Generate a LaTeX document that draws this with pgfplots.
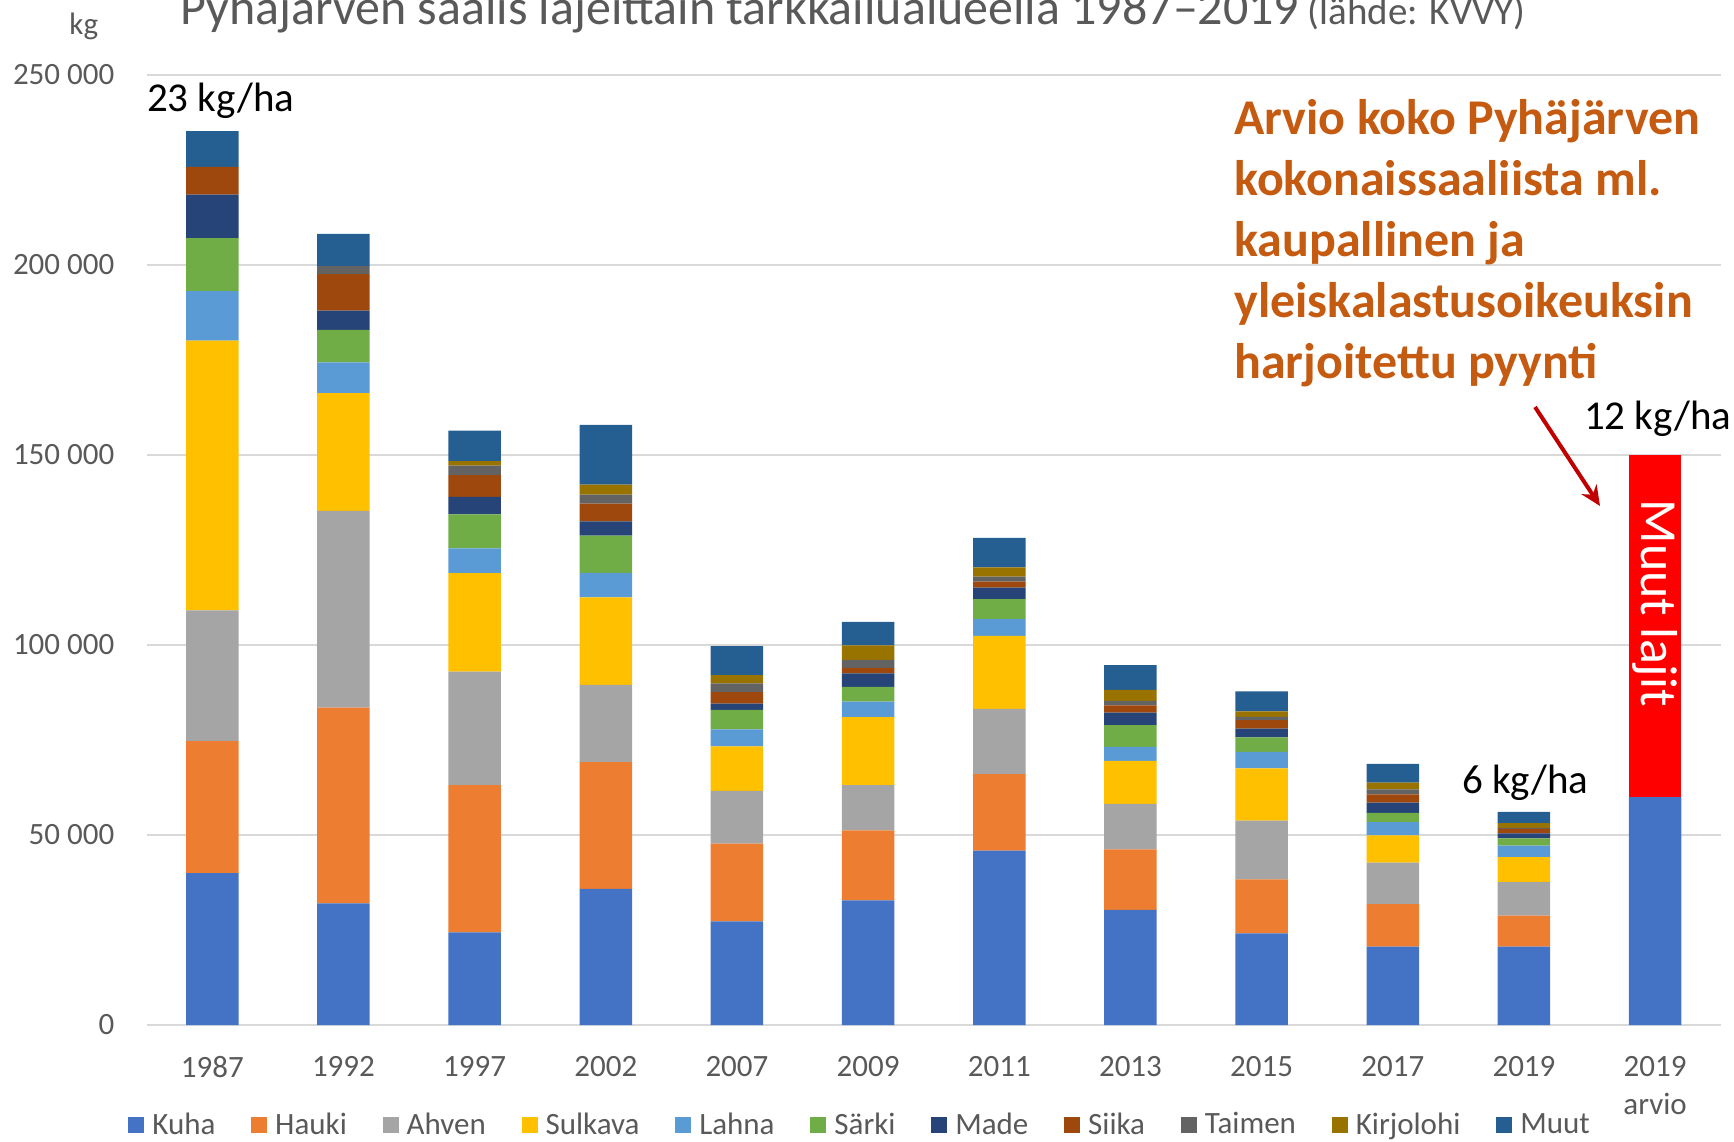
\documentclass[border=0pt]{standalone}
\usepackage{pgfplots}
\pgfplotsset{compat=1.18}
\usepackage{pgfplotstable}
\usetikzlibrary{arrows.meta}
\usepackage{fontspec}
\setmainfont{Carlito}

\definecolor{cKuha}{HTML}{4472C4}
\definecolor{cHauki}{HTML}{ED7D31}
\definecolor{cAhven}{HTML}{A5A5A5}
\definecolor{cSulkava}{HTML}{FFC000}
\definecolor{cLahna}{HTML}{5B9BD5}
\definecolor{cSarki}{HTML}{70AD47}
\definecolor{cMade}{HTML}{264478}
\definecolor{cSiika}{HTML}{9E480E}
\definecolor{cTaimen}{HTML}{636363}
\definecolor{cKirjolohi}{HTML}{997300}
\definecolor{cMuut}{HTML}{255E91}
\definecolor{txtgray}{HTML}{595959}
\definecolor{gridgray}{HTML}{D9D9D9}
\definecolor{orangetxt}{HTML}{C55A11}
\definecolor{arrowred}{HTML}{C00000}

% saalis (kg) lajeittain; x = 0..11 (1987 ... 2019 arvio)
\pgfplotstableread{
x Kuha Hauki Ahven Sulkava Lahna Sarki Made Siika Taimen Kirjolohi Muut Red
0 40000 34700 34400 71000 13000 14000 11400 7300 0 0 9400 0
1 32000 51500 51800 31000 8100 8500 5100 9600 2100 0 8500 0
2 24400 38700 29900 25900 6500 9000 4600 5700 2500 1200 8000 0
3 35800 33400 20300 23000 6500 9800 3700 4700 2400 2600 15700 0
4 27300 20400 13900 11700 4500 5100 1700 3000 2300 2200 7600 0
5 32800 18400 11900 17900 4100 3900 3500 1500 2100 3800 6200 0
6 45900 20100 17200 19200 4400 5300 3000 1600 1300 2400 7800 0
7 30300 15900 12000 11300 3700 5700 3300 1900 1200 2900 6500 0
8 24100 14200 15500 13700 4400 3800 2300 2200 900 1400 5300 0
9 20600 11200 10900 7200 3500 2400 2700 2200 1300 1800 4900 0
10 20600 8200 8800 6600 3000 1900 1300 1200 300 1200 3000 0
11 60000 0 0 0 0 0 0 0 0 0 0 90000
}\saalis

\begin{document}
\begin{tikzpicture}
\useasboundingbox (0,0) rectangle (867pt,570.5pt);
\begin{axis}[
  at={(73.35pt,58pt)}, anchor=south west,
  scale only axis, width=787pt, height=475pt,
  ybar stacked, bar width=0.4,
  xmin=-0.5, xmax=11.5, ymin=0, ymax=250000,
  clip=false,
  xtick={0,...,11},
  xticklabels={1987,1992,1997,2002,2007,2009,2011,2013,2015,2017,2019,{2019\\arvio}},
  ytick={0,50000,100000,150000,200000,250000},
  yticklabels={0,50 000,100 000,150 000,200 000,250 000},
  scaled y ticks=false,
  tick label style={font=\fontsize{15.5}{18.8}\selectfont, text=txtgray},
  x tick label style={align=center, anchor=north, inner sep=0pt, yshift=-15.5pt},
  y tick label style={anchor=east, inner sep=0pt, xshift=-16pt},
  axis line style={draw=none},
  major tick length=0pt,
  ymajorgrids,
  grid style={gridgray, line width=0.75pt},
  legend columns=11,
  legend style={at={(-0.0119,-0.105)}, anchor=west, draw=none, fill=none,
    inner sep=0pt, font=\fontsize{15.5}{18}\selectfont, text=txtgray,
    /tikz/every odd column/.append style={column sep=2pt},
    /tikz/every even column/.append style={column sep=15.9pt}},
  legend image code/.code={\fill[#1] (0pt,-4pt) rectangle (8pt,4pt);},
]
\addplot[fill=cKuha, draw=none] table[x=x, y=Kuha] {\saalis};
\addlegendentry{Kuha}
\addplot[fill=cHauki, draw=none] table[x=x, y=Hauki] {\saalis};
\addlegendentry{Hauki}
\addplot[fill=cAhven, draw=none] table[x=x, y=Ahven] {\saalis};
\addlegendentry{Ahven}
\addplot[fill=cSulkava, draw=none] table[x=x, y=Sulkava] {\saalis};
\addlegendentry{Sulkava}
\addplot[fill=cLahna, draw=none] table[x=x, y=Lahna] {\saalis};
\addlegendentry{Lahna}
\addplot[fill=cSarki, draw=none] table[x=x, y=Sarki] {\saalis};
\addlegendentry{Särki}
\addplot[fill=cMade, draw=none] table[x=x, y=Made] {\saalis};
\addlegendentry{Made}
\addplot[fill=cSiika, draw=none] table[x=x, y=Siika] {\saalis};
\addlegendentry{Siika}
\addplot[fill=cTaimen, draw=none] table[x=x, y=Taimen] {\saalis};
\addlegendentry{Taimen}
\addplot[fill=cKirjolohi, draw=none] table[x=x, y=Kirjolohi] {\saalis};
\addlegendentry{Kirjolohi}
\addplot[fill=cMuut, draw=none] table[x=x, y=Muut] {\saalis};
\addlegendentry{Muut}
\addplot[fill=red, draw=none, forget plot] table[x=x, y=Red] {\saalis};

\node[anchor=base west, inner sep=0pt, font=\fontsize{20.5}{24}\selectfont] at (axis cs:-0.5,240300) {23 kg/ha};
\node[anchor=base west, inner sep=0pt, font=\fontsize{20.5}{24}\selectfont] at (axis cs:10.455,156600) {12 kg/ha};
\node[anchor=base west, inner sep=0pt, font=\fontsize{20.5}{24}\selectfont] at (axis cs:9.525,61050) {6 kg/ha};
\coordinate (muut) at (axis cs:11,111000);
\end{axis}

\node[rotate=-90, inner sep=0pt, text=white, font=\fontsize{26}{30}\selectfont] at (muut) {Muut lajit};

% otsikko ja tekstit
\node[anchor=base west, inner sep=0pt, text=txtgray] at (90pt,558pt)
  {{\fontsize{25}{30}\selectfont Pyhäjärven saalis lajeittain tarkkailualueella 1987–2019}\hspace{2pt} {\fontsize{19.5}{23}\selectfont (lähde: KVVY)}};
\node[anchor=base west, inner sep=0pt, text=txtgray, font=\fontsize{15.5}{18}\selectfont] at (34.5pt,553pt) {kg};

\begin{scope}[every node/.style={anchor=base west, inner sep=0pt, text=orangetxt, font=\bfseries\fontsize{25}{30}\selectfont}]
\node at (617pt,503pt) {Arvio koko Pyhäjärven};
\node at (617pt,472.6pt) {kokonaissaaliista ml.};
\node at (617pt,442.2pt) {kaupallinen ja};
\node at (617pt,411.8pt) {yleiskalastusoikeuksin};
\node at (617pt,381.4pt) {harjoitettu pyynti};
\end{scope}
\draw[arrowred, line width=2pt, -{Stealth[length=10pt, width=9pt]}] (767.5pt,367pt) -- (800pt,317.5pt);
\end{tikzpicture}
\end{document}
